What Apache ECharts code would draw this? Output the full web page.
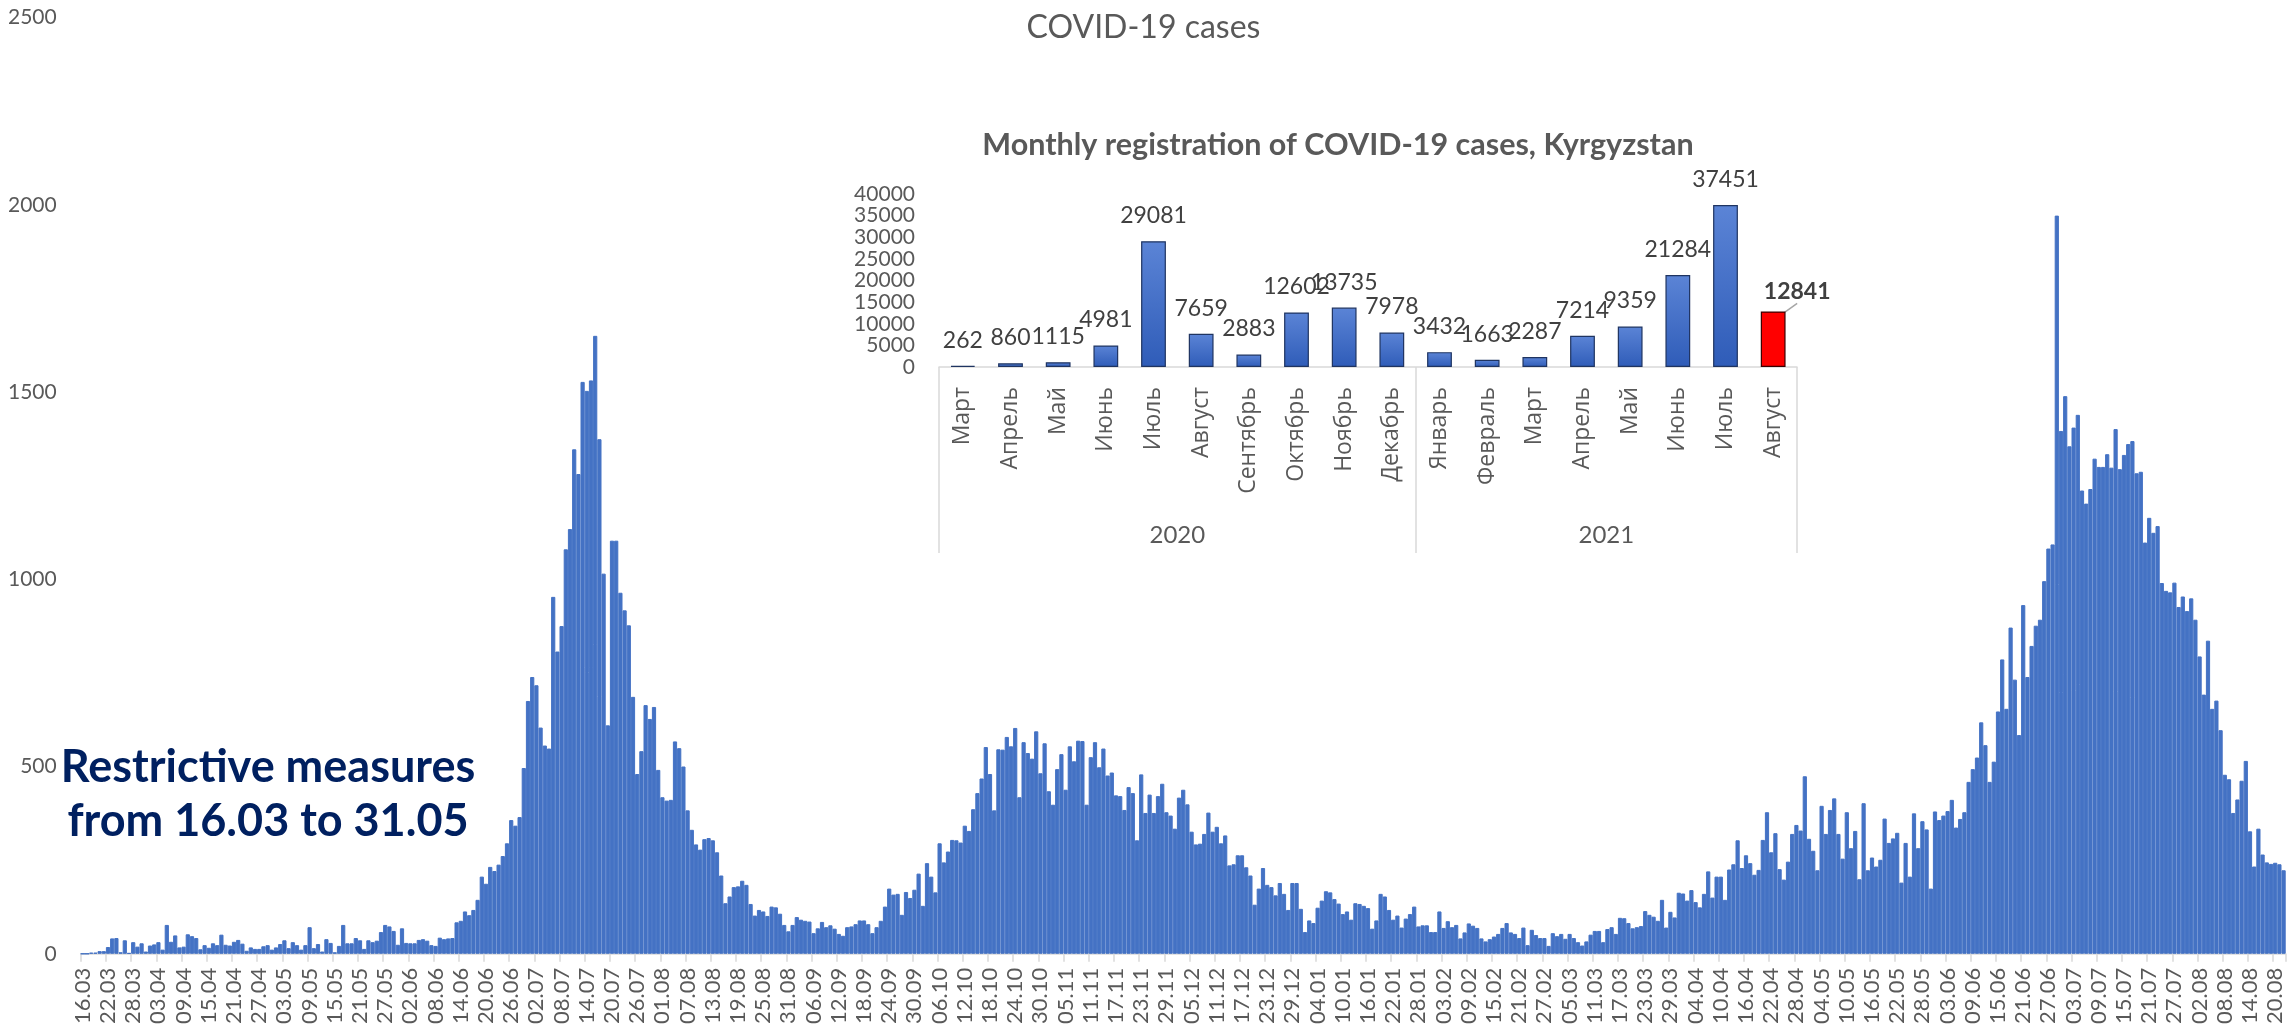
<!DOCTYPE html>
<html>
<head>
<meta charset="utf-8">
<script src="https://cdn.jsdelivr.net/npm/echarts@6/dist/echarts.min.js"></script>
<style>
html,body{margin:0;padding:0;background:#fff;}
#chart{width:2287px;height:1027px;}
</style>
</head>
<body>
<div id="chart"></div>
<script>
// ---- Daily new COVID-19 cases, Kyrgyzstan, starting 16.03.2020 ----
const mar20 = [0,0,3,3,7,7,18,41,42,4,36,2,31,19,28,6];
const apr20 = [22,25,31,11,77,32,49,17,19,52,47,42,12,23,16,28,23,51,24,22,32,37,27,8,17,13,13,20,23,11];
const may20 = [17,26,36,15,31,23,11,23,71,15,26,6,39,29,4,21,77,28,28,42,36,13,36,31,35,58,77,73,61,24,68];
const jun20 = [29,28,28,37,39,35,23,21,43,39,41,42,84,88,113,103,117,144,206,187,232,221,238,261,295,357,342,365,496,675];
const jul20 = [739,717,604,556,548,953,807,875,1080,1134,1347,1281,1527,1503,1531,1650,1374,1015,610,1103,1103,964,917,877,686,480,541,664,627,659,491];
const aug20 = [418,409,411,567,549,500,383,331,292,278,306,309,303,271,209,135,153,178,180,195,184,133,102,117,113,101,126,124,107,77,60];
const sep20 = [77,98,91,88,86,55,68,85,71,76,67,53,48,71,73,79,89,89,79,55,71,88,126,174,158,160,104,165,149,171];
const oct20 = [214,128,242,206,164,295,244,273,304,303,297,342,328,386,429,468,552,480,383,546,545,579,554,603,418,565,536,521,594,482,562];
const nov20 = [434,398,493,533,438,554,514,569,568,398,525,565,498,548,476,484,423,421,384,445,429,303,479,376,425,376,421,454,378,369];
const dec20 = [334,417,438,399,326,292,294,320,377,326,339,295,316,236,239,263,263,231,209,131,174,229,184,178,156,189,160,117,189,189,120];
const jan21 = [58,89,82,123,142,167,164,146,134,106,113,91,135,133,128,122,67,89,160,153,117,91,102,70,94,106,126,73,76,76,58];
const feb21 = [58,113,69,87,71,77,41,57,81,75,69,41,33,39,46,53,69,82,57,53,42,70,23,64,50,42,42,21];
const mar21 = [55,47,53,40,53,42,31,22,33,51,61,61,31,66,71,53,96,95,82,68,71,74,114,104,99,88,144,70,112,97,163];
const apr21 = [161,142,170,138,124,160,220,150,206,206,144,225,239,303,229,263,242,211,224,304,378,271,322,226,198,246,320,344,329,474];
const may21 = [307,275,223,395,320,384,415,320,254,378,282,328,199,402,223,257,233,251,361,296,308,323,190,296,206,375,282,354,332,174,380];
const jun21 = [357,369,381,411,337,360,378,459,493,524,618,557,459,513,647,786,654,871,732,584,931,739,822,876,892,995,1082,1093,1971,1396];
const jul21 = [1489,1355,1405,1439,1237,1202,1241,1322,1300,1300,1334,1298,1401,1294,1332,1361,1369,1283,1287,1098,1164,1124,1142,990,969,965,991,926,954,915,949];
const aug21 = [892,794,692,836,654,676,597,478,466,376,412,462,515,327,233,334,265,244,240,243,239,223];

// ---- Inset: monthly registration ----
const monthLabels = ['Март','Апрель','Май','Июнь','Июль','Август','Сентябрь','Октябрь','Ноябрь','Декабрь',
                     'Январь','Февраль','Март','Апрель','Май','Июнь','Июль','Август'];
const monthlyCases = [262,860,1115,4981,29081,7659,2883,12602,13735,7978,3432,1663,2287,7214,9359,21284,37451,12841];
const yearLabels = ['2020','2021'];
const yearMonthCounts = [10, 8];

// ---- Text ----
const mainTitle = 'COVID-19 cases';
const insetTitle = 'Monthly registration of COVID-19 cases, Kyrgyzstan';
const noteText = 'Restrictive measures\nfrom 16.03 to 31.05';

const daily = [].concat(mar20,apr20,may20,jun20,jul20,aug20,sep20,oct20,nov20,dec20,jan21,feb21,mar21,apr21,may21,jun21,jul21,aug21);
const start = Date.UTC(2020, 2, 16);
const dates = daily.map(function(_, i){
  const d = new Date(start + i*86400000);
  const dd = String(d.getUTCDate()).padStart(2,'0');
  const mm = String(d.getUTCMonth()+1).padStart(2,'0');
  return dd + '.' + mm;
});

// year axis positions derived from month counts
const yearSeps = [0]; const yearCenters = [];
yearMonthCounts.forEach(function(c){ const s = yearSeps[yearSeps.length-1]; yearCenters.push(s + c/2); yearSeps.push(s + c); });

const lastIdx = monthlyCases.length - 1;
const insetData = monthlyCases.map(function(v, i){
  if (i === lastIdx) {
    return {value: v, itemStyle: {color: '#FF0000', borderColor: '#3a0000'},
            label: {fontWeight: 'bold', color: '#404040'},
            labelLine: {show: true, lineStyle: {color: '#a6a6a6', width: 1.5}}};
  }
  return v;
});

const font = 'Lato, "Open Sans", sans-serif';
const cyrFont = '"Open Sans", sans-serif';
const plain = function(v){ return String(v); };
const chart = echarts.init(document.getElementById('chart'), null, {renderer: 'canvas'});
chart.setOption({
  animation: false,
  backgroundColor: '#ffffff',
  textStyle: {fontFamily: font},
  title: [
    {text: mainTitle, left: 'center', top: 7,
     textStyle: {fontFamily: font, fontSize: 32, fontWeight: 'normal', color: '#595959'}},
    {text: insetTitle, left: 1333, top: 125, textAlign: 'center',
     textStyle: {fontFamily: font, fontSize: 30.5, fontWeight: 'bold', color: '#595959'}},
    {text: noteText, left: 263, top: 735, textAlign: 'center',
     textStyle: {fontFamily: font, fontSize: 45, fontWeight: 'bold', color: '#002060', lineHeight: 54}}
  ],
  grid: [
    {left: 80.7, right: 1.3, top: 17.5, bottom: 73},
    {left: 939, right: 490, top: 194, bottom: 660}
  ],
  xAxis: [
    {gridIndex: 0, type: 'category', data: dates, boundaryGap: true,
     axisLine: {show: true, lineStyle: {color: '#d9d9d9', width: 1.5}},
     axisTick: {show: true, interval: 5, length: 8, lineStyle: {color: '#d9d9d9', width: 1.5}},
     axisLabel: {interval: 5, rotate: 90, fontSize: 22, color: '#595959', margin: 14, fontFamily: font}},
    {gridIndex: 1, type: 'category', data: monthLabels,
     axisLine: {show: true, lineStyle: {color: '#d9d9d9', width: 1.5}},
     axisTick: {show: false},
     axisLabel: {interval: 0, rotate: 90, fontSize: 23, color: '#595959', margin: 20, fontFamily: cyrFont}},
    {gridIndex: 1, type: 'value', position: 'bottom', min: 0, max: monthlyCases.length,
     axisLine: {show: false}, splitLine: {show: false},
     axisTick: {show: true, customValues: yearSeps, length: 186, lineStyle: {color: '#d9d9d9', width: 1.5}},
     axisLabel: {show: true, customValues: yearCenters, margin: 156, fontSize: 24, color: '#595959', fontFamily: font,
       formatter: function(v){ const k = yearCenters.indexOf(v); return k >= 0 ? yearLabels[k] : ''; }}}
  ],
  yAxis: [
    {gridIndex: 0, type: 'value', min: 0, max: 2500, interval: 500,
     axisLine: {show: false}, axisTick: {show: false}, splitLine: {show: false},
     axisLabel: {fontSize: 21, color: '#595959', margin: 24, fontFamily: font, formatter: plain,
                 showMinLabel: true, showMaxLabel: true}},
    {gridIndex: 1, type: 'value', min: 0, max: 40000, interval: 5000,
     axisLine: {show: false}, axisTick: {show: false}, splitLine: {show: false},
     axisLabel: {fontSize: 21, color: '#595959', margin: 24, fontFamily: font, formatter: plain,
                 showMinLabel: true, showMaxLabel: true, hideOverlap: false}}
  ],
  series: [
    {type: 'bar', xAxisIndex: 0, yAxisIndex: 0, data: daily, barCategoryGap: '0%',
     itemStyle: {color: '#4472C4', borderColor: '#4472C4', borderWidth: 1}},
    {type: 'bar', xAxisIndex: 1, yAxisIndex: 1, data: insetData, barCategoryGap: '48%',
     itemStyle: {
       color: new echarts.graphic.LinearGradient(0, 0, 0, 1, [
         {offset: 0, color: '#5B84D6'}, {offset: 1, color: '#2F5CB8'}]),
       borderColor: '#1F3461', borderWidth: 1.2},
     label: {show: true, position: 'top', distance: 14, fontSize: 23, color: '#404040', fontFamily: font},
     labelLayout: function(p){ return p.dataIndex === lastIdx ? {dx: 24, dy: 6} : {}; },
     labelLine: {show: false}}
  ]
});
</script>
</body>
</html>
